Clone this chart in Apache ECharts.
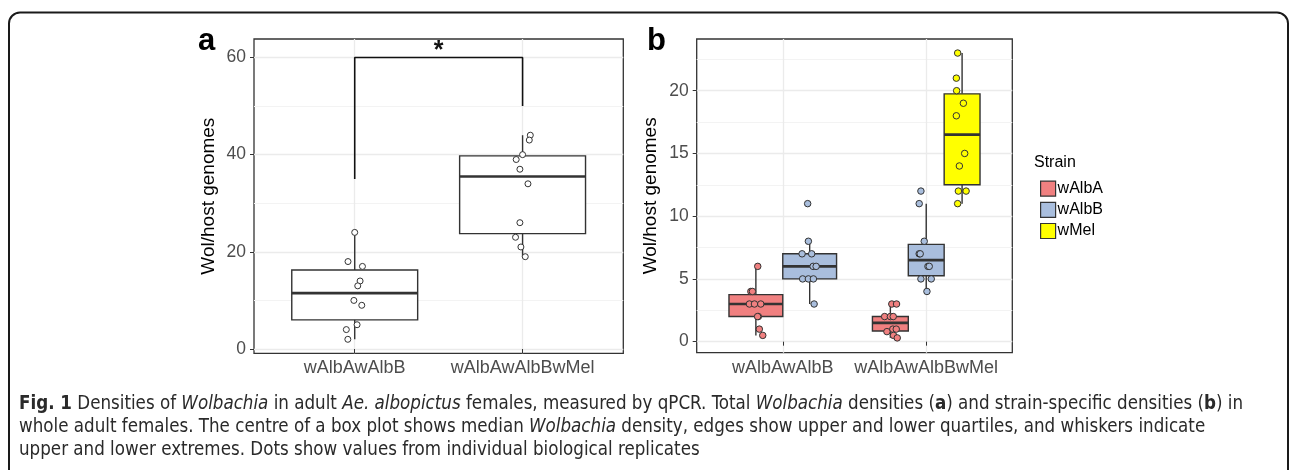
<!DOCTYPE html>
<html><head><meta charset="utf-8">
<script src="https://cdn.jsdelivr.net/npm/echarts@6/dist/echarts.min.js"></script>
<style>html,body{margin:0;padding:0;background:#fff}#c{width:1290px;height:470px}</style>
</head><body><div id="c"></div><script>
// ---------- data ----------
const categories = ['wAlbAwAlbB', 'wAlbAwAlbBwMel'];
const strains = ['wAlbA', 'wAlbB', 'wMel'];
const strainColors = ['#F08080', '#A9BEDD', '#FFFF00'];
// panel a: total Wolbachia density per replicate
const totalValues = [[24, 18, 17, 14, 13, 10, 9, 5, 4, 2], [44, 43, 40, 39, 37, 34, 26, 23, 21, 19]];
const totalJitter = [[0, -0.04, 0.046, 0.032, 0.018, -0.005, 0.042, 0.014, -0.05, -0.041], [0.046, 0.04, 0, -0.038, -0.016, 0.032, -0.016, -0.042, -0.01, 0.016]];
// panel b: strain-specific densities (null = strain absent in that line)
const wAlbAValues = [[6, 4, 4, 3, 3, 3, 2, 2, 1, 0.5], [3, 3, 2, 2, 2, 1, 1, 0.8, 0.5, 0.3]];
const wAlbAJitter = [[0.013, -0.035, -0.024, -0.045, -0.01, 0.034, 0.017, 0.012, 0.024, 0.048], [0.01, 0.043, -0.04, 0, 0.02, 0.017, 0.041, -0.024, 0.022, 0.048]];
const wAlbBValues = [[11, 8, 7, 7, 6, 6, 5, 5, 5, 3], [12, 11, 8, 7, 7, 6, 6, 5, 5, 4]];
const wAlbBJitter = [[-0.014, -0.009, -0.053, 0.014, 0.024, 0.045, -0.049, -0.009, 0.026, 0.031], [-0.037, -0.049, -0.014, -0.049, -0.042, 0.012, 0.021, -0.037, 0.035, 0.005]];
const wMelValues = [null, [23, 21, 20, 19, 18, 15, 14, 12, 12, 11]];
const wMelJitter = [null, [-0.031, -0.04, -0.038, 0.009, -0.04, 0.018, -0.019, -0.026, 0.028, -0.031]];
// significance bracket (panel a)
const bracketPoints = [[1, 35], [1, 60], [2, 60], [2, 50]];
const signifLabel = '*';
const signifPos = [1.5, 61.3];
// tick labels
const yTicksA = [0, 20, 40, 60];
const yMinorA = [10, 30, 50];
const yTicksB = [0, 5, 10, 15, 20];
const yMinorB = [2.5, 7.5, 12.5, 17.5, 22.5];
const xTicks = [1, 2];
const yTitle = 'Wol/host genomes';
const legendTitle = 'Strain';
const panelLabels = ['a', 'b'];
const captionLines = [
  '{b|Fig. 1} Densities of {i|Wolbachia} in adult {i|Ae. albopictus} females, measured by qPCR. Total {i|Wolbachia} densities ({b|a}) and strain-specific densities ({b|b}) in',
  'whole adult females. The centre of a box plot shows median {i|Wolbachia} density, edges show upper and lower quartiles, and whiskers indicate',
  'upper and lower extremes. Dots show values from individual biological replicates'
];

// ---------- helpers ----------
const FONT = '"Liberation Sans", Arial, Helvetica, sans-serif';
const CAPFONT = '"Liberation Sans Narrow", "DejaVu Sans Condensed", "Open Sans", sans-serif';
const CAPSIZE = 18.6;
function quantile(s, p) { const h = (s.length - 1) * p, lo = Math.floor(h), hi = Math.ceil(h); return s[lo] + (h - lo) * (s[hi] - s[lo]); }
function boxStats(vals) {
  const s = [...vals].sort((a, b) => a - b);
  const q1 = quantile(s, .25), med = quantile(s, .5), q3 = quantile(s, .75), iqr = q3 - q1;
  const lo = Math.min(...s.filter(v => v >= q1 - 1.5 * iqr));
  const hi = Math.max(...s.filter(v => v <= q3 + 1.5 * iqr));
  return [lo, q1, med, q3, hi];
}
const STROKE = '#333333';
function boxRenderer(fill) {
  return function (params, api) {
    const x = api.value(0), hw = api.value(6);
    const c = v => api.coord([x, v]);
    const lo = c(api.value(1)), q1 = c(api.value(2)), med = c(api.value(3)), q3 = c(api.value(4)), hi = c(api.value(5));
    const left = api.coord([x - hw, 0])[0], right = api.coord([x + hw, 0])[0];
    return { type: 'group', children: [
      { type: 'line', shape: { x1: lo[0], y1: lo[1], x2: q1[0], y2: q1[1] }, style: { stroke: STROKE, lineWidth: 1.4 } },
      { type: 'line', shape: { x1: q3[0], y1: q3[1], x2: hi[0], y2: hi[1] }, style: { stroke: STROKE, lineWidth: 1.4 } },
      { type: 'rect', shape: { x: left, y: q3[1], width: right - left, height: q1[1] - q3[1] }, style: { fill: fill, stroke: STROKE, lineWidth: 1.4 } },
      { type: 'line', shape: { x1: left, y1: med[1], x2: right, y2: med[1] }, style: { stroke: STROKE, lineWidth: 2.6 } }
    ] };
  };
}
const BOXW = 0.75;

// ---------- axes ----------
function xAxis(gridIndex) {
  return {
    type: 'value', gridIndex, min: 0.4, max: 2.6,
    axisLine: { show: false },
    axisTick: { show: true, customValues: xTicks, length: 4, lineStyle: { color: STROKE, width: 1 } },
    axisLabel: { customValues: xTicks, formatter: v => categories[Math.round(v) - 1], color: '#4d4d4d', fontSize: 18, fontFamily: FONT, margin: 6 },
    splitLine: { show: true, lineStyle: { color: '#ebebeb', width: 1.3 } }
  };
}
function yAxis(gridIndex, min, max, ticks) {
  return {
    type: 'value', gridIndex, min, max,
    name: yTitle, nameLocation: 'middle', nameGap: 36,
    nameTextStyle: { color: '#000', fontSize: 19, fontFamily: FONT },
    axisLine: { show: false },
    axisTick: { show: true, customValues: ticks, length: 4, lineStyle: { color: STROKE, width: 1 } },
    axisLabel: { customValues: ticks, color: '#4d4d4d', fontSize: 17.5, fontFamily: FONT, margin: 8 },
    splitLine: { show: true, lineStyle: { color: '#ebebeb', width: 1.3 } }
  };
}
function yMinorAxis(gridIndex, min, max, ticks) {
  return {
    type: 'value', gridIndex, min, max, position: 'left',
    axisLine: { show: false },
    axisTick: { show: false, customValues: ticks },
    axisLabel: { show: false, customValues: ticks },
    splitLine: { show: true, lineStyle: { color: '#f3f3f3', width: 1 } }
  };
}

// ---------- series ----------
const series = [];
const boxA = categories.map((c, g) => [g + 1, ...boxStats(totalValues[g]), BOXW / 2]);
series.push({ type: 'custom', name: 'total', xAxisIndex: 0, yAxisIndex: 0, renderItem: boxRenderer('#ffffff'), encode: { x: 0, y: [1, 2, 3, 4, 5] }, data: boxA, z: 3, silent: true });
const ptsA = [];
totalValues.forEach((vals, g) => vals.forEach((v, i) => ptsA.push([g + 1 + totalJitter[g][i], v])));
series.push({ type: 'scatter', xAxisIndex: 0, yAxisIndex: 0, data: ptsA, symbolSize: 6, itemStyle: { color: '#fff', borderColor: STROKE, borderWidth: 1, opacity: 1 }, z: 5, silent: true });
series.push({ type: 'line', xAxisIndex: 0, yAxisIndex: 0, data: bracketPoints, symbol: 'none', lineStyle: { color: '#111', width: 1.6 }, z: 4, silent: true });
series.push({
  type: 'custom', xAxisIndex: 0, yAxisIndex: 0, data: [signifPos], encode: { x: 0, y: 1 }, z: 6, silent: true,
  renderItem: (p, api) => { const pt = api.coord([api.value(0), api.value(1)]); return { type: 'text', x: pt[0], y: pt[1], style: { text: signifLabel, fontSize: 25, fontWeight: 'bold', fontFamily: FONT, fill: '#111', align: 'center', verticalAlign: 'middle' } }; }
});

// panel b
const strainValues = [wAlbAValues, wAlbBValues, wMelValues];
const strainJitter = [wAlbAJitter, wAlbBJitter, wMelJitter];
strains.forEach((name, s) => {
  const boxes = [], pts = [];
  categories.forEach((c, g) => {
    const present = strainValues.map(sv => sv[g] != null);
    const n = present.filter(Boolean).length;
    if (strainValues[s][g] == null) return;
    const k = present.slice(0, s).filter(Boolean).length;
    const w = BOXW / n;
    const cx = g + 1 - BOXW / 2 + (k + 0.5) * w;
    boxes.push([cx, ...boxStats(strainValues[s][g]), w / 2]);
    strainValues[s][g].forEach((v, i) => pts.push([cx + strainJitter[s][g][i], v]));
  });
  series.push({ type: 'custom', name, xAxisIndex: 2, yAxisIndex: 2, renderItem: boxRenderer(strainColors[s]), encode: { x: 0, y: [1, 2, 3, 4, 5] }, data: boxes, z: 3, silent: true, itemStyle: { color: strainColors[s] } });
  series.push({ type: 'scatter', name, xAxisIndex: 2, yAxisIndex: 2, data: pts, symbolSize: 6.5, itemStyle: { color: strainColors[s], borderColor: STROKE, borderWidth: 1, opacity: 1 }, z: 5, silent: true });
});

// legend key glyph: box with median line and point
const keyIcon = 'path://M0,0H15V15H0Z';

const chart = echarts.init(document.getElementById('c'), null, { renderer: 'canvas' });
chart.setOption({
  backgroundColor: '#fff',
  animation: false,
  grid: [
    { left: 254, top: 39, width: 369.3, height: 314.3, show: true, borderColor: STROKE, borderWidth: 1.3, backgroundColor: 'transparent', containLabel: false },
    { left: 696.7, top: 39, width: 315.6, height: 313.7, show: true, borderColor: STROKE, borderWidth: 1.3, backgroundColor: 'transparent', containLabel: false }
  ],
  xAxis: [xAxis(0), xAxis(1), { ...xAxis(1), gridIndex: 1, axisLabel: { show: false }, axisTick: { show: false }, splitLine: { show: false } }],
  yAxis: [yAxis(0, -0.88, 63.8, yTicksA), yMinorAxis(0, -0.88, 63.8, yMinorA), yAxis(1, -0.88, 24.12, yTicksB), yMinorAxis(1, -0.88, 24.12, yMinorB)],
  legend: {
    left: 1035, top: 175.5, orient: 'vertical', itemWidth: 15, itemHeight: 15, itemGap: 5, selectedMode: false,
    textStyle: { fontSize: 16, fontFamily: FONT, color: '#000', padding: [0, 0, 0, -3] },
    data: strains.map((s, i) => ({ name: s, icon: keyIcon, itemStyle: { color: strainColors[i], borderColor: STROKE, borderWidth: 1.2 } }))
  },
  graphic: [
    { type: 'rect', shape: { x: 9, y: 12.5, width: 1279, height: 520, r: 11 }, style: { fill: 'none', stroke: '#1a1a1a', lineWidth: 2 }, silent: true },
    { type: 'text', x: 198, y: 41.5, style: { text: panelLabels[0], fontSize: 31, fontWeight: 'bold', fontFamily: FONT, fill: '#000', verticalAlign: 'middle' } },
    { type: 'text', x: 647, y: 41.5, style: { text: panelLabels[1], fontSize: 31, fontWeight: 'bold', fontFamily: FONT, fill: '#000', verticalAlign: 'middle' } },
    { type: 'text', x: 1034, y: 163, style: { text: legendTitle, fontSize: 16, fontFamily: FONT, fill: '#000', verticalAlign: 'middle' } },
    ...captionLines.map((t, i) => ({
      type: 'text', x: 19, y: 404 + i * 23,
      style: {
        text: t, fontSize: CAPSIZE, fontFamily: CAPFONT, fill: '#2a2a2a', verticalAlign: 'middle',
        rich: {
          b: { fontSize: CAPSIZE, fontFamily: CAPFONT, fontWeight: 'bold', fill: '#2a2a2a' },
          i: { fontSize: CAPSIZE, fontFamily: CAPFONT, fontStyle: 'italic', fill: '#2a2a2a' }
        }
      }
    }))
  ],
  series
});
</script></body></html>
